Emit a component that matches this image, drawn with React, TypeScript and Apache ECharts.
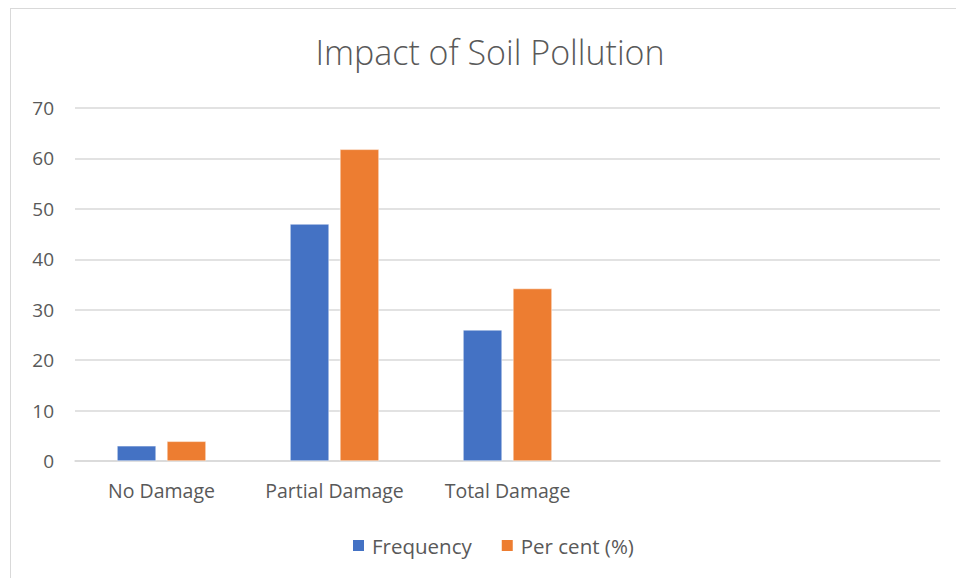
import React, { useEffect, useRef } from "react";
import * as echarts from "echarts";

const categories = ["No Damage", "Partial Damage", "Total Damage", "", ""];
const frequency = [3, 47, 26, null, null];
const perCent = [3.9, 61.8, 34.2, null, null];
const yTicks = { min: 0, max: 70, interval: 10 };

export default function App() {
  const ref = useRef<HTMLDivElement>(null);
  useEffect(() => {
    if (!ref.current) return;
    const chart = echarts.init(ref.current, undefined, { renderer: "svg" });
    const font = "'Open Sans', 'Liberation Sans', sans-serif";
    chart.setOption({
      animation: false,
      backgroundColor: "#ffffff",
      title: {
        text: "Impact of Soil Pollution",
        left: 474,
        textAlign: "center",
        top: 21,
        textStyle: { fontFamily: font, fontSize: 34, fontWeight: 300, color: "#595959" },
      },
      grid: { left: 64, right: 15, top: 99, bottom: 116, containLabel: false },
      legend: {
        bottom: 16,
        left: 335,
        itemWidth: 13,
        itemHeight: 13,
        itemGap: 28,
        icon: "rect",
        textStyle: { fontFamily: font, fontSize: 20.5, color: "#595959", padding: [0, 0, 0, 2] },
        data: ["Frequency", "Per cent (%)"],
      },
      xAxis: {
        type: "category",
        data: categories,
        axisLine: { lineStyle: { color: "#d9d9d9", width: 1.5 } },
        axisTick: { show: false },
        axisLabel: { fontFamily: font, fontSize: 19.5, color: "#595959", margin: 19, interval: 0 },
      },
      yAxis: {
        type: "value",
        min: yTicks.min,
        max: yTicks.max,
        interval: yTicks.interval,
        axisLine: { show: false },
        axisTick: { show: false },
        axisLabel: { fontFamily: font, fontSize: 19, color: "#595959", margin: 21 },
        splitLine: { lineStyle: { color: "#d9d9d9", width: 1.5 } },
      },
      series: [
        {
          name: "Frequency",
          type: "bar",
          data: frequency,
          barWidth: 39,
          barGap: "28%",
          itemStyle: { color: "#4472c4", borderColor: "#ffffff", borderWidth: 0.5 },
        },
        {
          name: "Per cent (%)",
          type: "bar",
          data: perCent,
          barWidth: 39,
          itemStyle: { color: "#ed7d31", borderColor: "#ffffff", borderWidth: 0.5 },
        },
      ],
    });
    return () => chart.dispose();
  }, []);
  return (
    <div
      style={{
        position: "absolute",
        left: 10,
        top: 8,
        width: 946,
        height: 570,
        borderLeft: "1.5px solid #d9d9d9",
        borderTop: "1.5px solid #d9d9d9",
        boxSizing: "border-box",
        background: "#fff",
      }}
    >
      <div ref={ref} style={{ position: "absolute", left: 0, top: 0, width: 944, height: 568 }} />
    </div>
  );
}
